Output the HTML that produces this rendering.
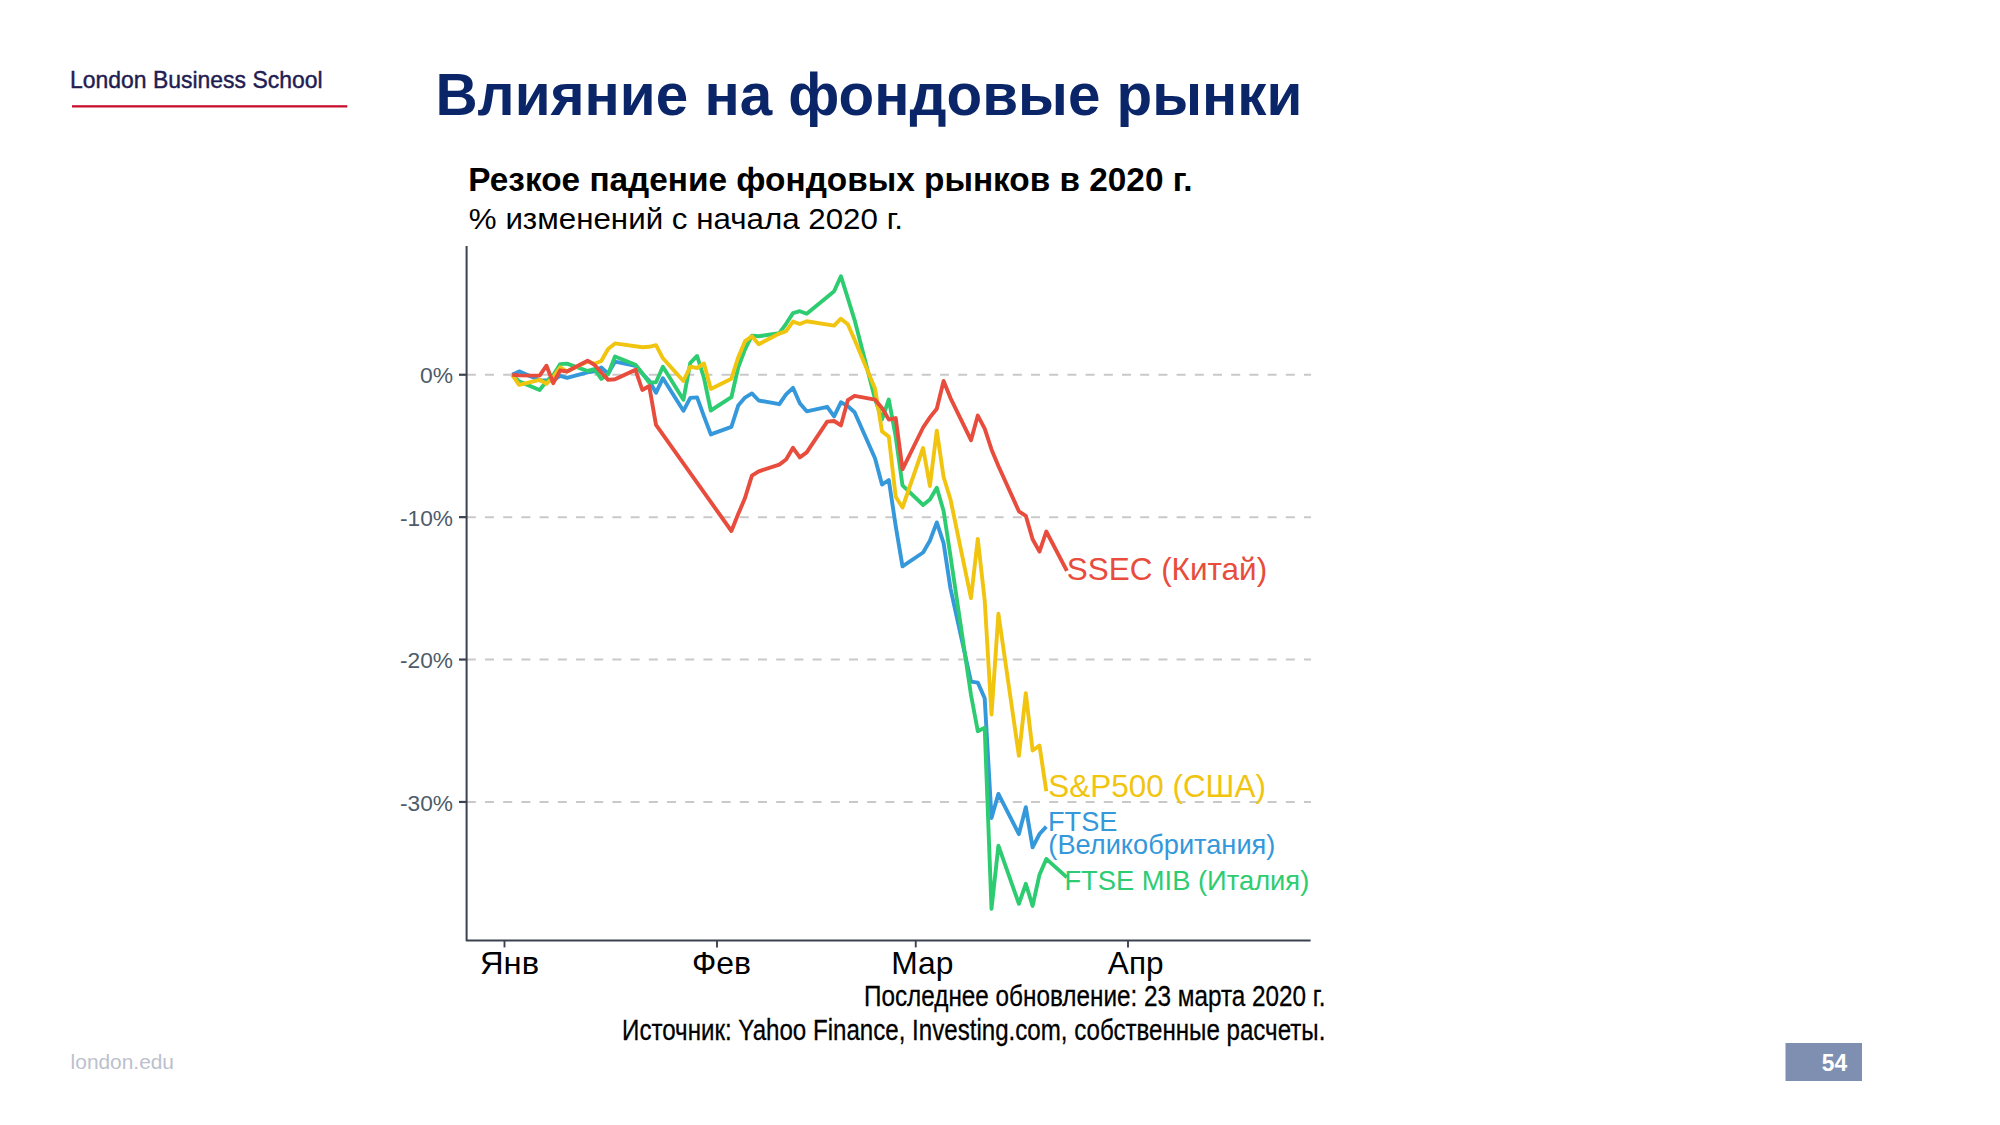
<!DOCTYPE html>
<html lang="ru">
<head>
<meta charset="utf-8">
<title>Влияние на фондовые рынки</title>
<style>
html,body{margin:0;padding:0;background:#fff;}
body{width:2000px;height:1125px;overflow:hidden;}
svg{display:block;}
svg text{font-family:"Liberation Sans",sans-serif;}
</style>
</head>
<body>
<svg width="2000" height="1125" viewBox="0 0 2000 1125">
<rect width="2000" height="1125" fill="#ffffff"/>
<rect x="72" y="105.2" width="275.3" height="2.3" fill="#c8102e"/>
<line x1="466.8" y1="374.75" x2="1311" y2="374.75" stroke="#c9c9c9" stroke-width="2" stroke-dasharray="9 9.2"/>
<line x1="466.8" y1="517.15" x2="1311" y2="517.15" stroke="#c9c9c9" stroke-width="2" stroke-dasharray="9 9.2"/>
<line x1="466.8" y1="659.55" x2="1311" y2="659.55" stroke="#c9c9c9" stroke-width="2" stroke-dasharray="9 9.2"/>
<line x1="466.8" y1="801.95" x2="1311" y2="801.95" stroke="#c9c9c9" stroke-width="2" stroke-dasharray="9 9.2"/>
<polyline points="512.2,374.8 519.1,371.4 539.6,380.2 546.5,380.5 553.3,380.2 560.2,375.9 567.0,377.8 587.6,372.3 594.4,371.4 601.3,367.5 608.1,373.7 615.0,361.6 635.5,365.9 642.3,373.6 649.2,380.8 656.0,392.8 662.9,378.2 683.4,410.8 690.3,397.9 697.1,397.4 704.0,416.4 710.8,434.4 731.4,426.8 738.2,405.6 745.0,397.6 751.9,393.4 758.7,400.5 779.3,404.2 786.1,394.4 793.0,387.8 799.8,403.3 806.7,411.3 827.2,406.8 834.1,416.4 840.9,402.3 847.8,406.1 854.6,412.3 875.1,458.5 882.0,484.6 888.8,480.0 895.7,526.0 902.5,566.4 923.1,552.5 929.9,540.7 936.8,522.4 943.6,543.1 950.5,588.6 971.0,681.6 977.8,682.6 984.7,698.3 991.5,818.0 998.4,793.9 1018.9,834.1 1025.8,807.2 1032.6,847.3 1039.5,834.0 1046.3,826.7" fill="none" stroke="#3498db" stroke-width="3.9" stroke-linejoin="round" stroke-linecap="butt"/>
<polyline points="512.2,374.8 519.1,381.4 539.6,390.0 546.5,381.4 553.3,375.0 560.2,364.1 567.0,363.6 587.6,371.0 594.4,369.2 601.3,379.0 608.1,374.2 615.0,356.5 635.5,364.8 642.3,373.3 649.2,382.6 656.0,382.3 662.9,366.8 683.4,399.8 690.3,362.8 697.1,356.0 704.0,378.0 710.8,410.5 731.4,397.2 738.2,367.5 745.0,349.4 751.9,335.6 758.7,336.3 779.3,333.2 786.1,323.8 793.0,313.1 799.8,311.2 806.7,313.8 827.2,296.9 834.1,291.3 840.9,276.2 847.8,298.1 854.6,320.1 875.1,399.2 882.0,419.3 888.8,399.5 895.7,436.7 902.5,485.4 923.1,505.0 929.9,499.5 936.8,487.7 943.6,511.0 950.5,556.2 971.0,695.0 977.8,731.2 984.7,727.8 991.5,908.9 998.4,845.7 1018.9,903.8 1025.8,883.8 1032.6,905.9 1039.5,874.7 1046.3,858.9 1066.9,877.4" fill="none" stroke="#2ecc71" stroke-width="3.9" stroke-linejoin="round" stroke-linecap="butt"/>
<polyline points="512.2,374.8 519.1,384.8 539.6,379.8 546.5,383.8 553.3,376.8 560.2,367.4 567.0,371.5 587.6,361.5 594.4,363.7 601.3,361.0 608.1,349.0 615.0,343.4 642.3,347.2 649.2,346.8 656.0,345.2 662.9,358.3 683.4,381.0 690.3,366.7 697.1,368.0 704.0,363.5 710.8,388.9 731.4,378.7 738.2,357.4 745.0,341.2 751.9,336.3 758.7,344.2 779.3,333.6 786.1,331.1 793.0,321.6 799.8,324.0 806.7,321.3 834.1,325.6 840.9,318.7 847.8,324.3 854.6,339.8 875.1,388.7 882.0,431.4 888.8,436.6 895.7,496.7 902.5,507.5 923.1,448.0 929.9,486.0 936.8,430.6 943.6,477.0 950.5,499.5 971.0,598.2 977.8,538.9 984.7,600.5 991.5,714.5 998.4,613.8 1018.9,755.8 1025.8,693.2 1032.6,750.5 1039.5,745.6 1046.3,791.3" fill="none" stroke="#f1c40f" stroke-width="3.9" stroke-linejoin="round" stroke-linecap="butt"/>
<polyline points="512.2,374.8 519.1,375.4 539.6,375.6 546.5,365.7 553.3,383.2 560.2,370.3 567.0,371.5 587.6,360.7 594.4,364.8 601.3,372.5 608.1,379.9 615.0,379.2 635.5,369.9 642.3,390.0 649.2,386.0 656.0,424.9 731.4,531.0 738.2,514.1 745.0,498.0 751.9,475.7 758.7,471.3 779.3,464.6 786.1,459.5 793.0,447.8 799.8,457.4 806.7,452.4 827.2,421.6 834.1,421.0 840.9,425.4 847.8,400.2 854.6,395.8 875.1,399.7 882.0,408.1 888.8,419.6 895.7,418.1 902.5,469.3 923.1,427.5 929.9,417.4 936.8,408.7 943.6,381.0 950.5,398.1 971.0,440.2 977.8,415.6 984.7,428.6 991.5,449.4 998.4,466.0 1018.9,511.3 1025.8,515.8 1032.6,539.3 1039.5,551.6 1046.3,531.5 1066.9,570.9" fill="none" stroke="#e74c3c" stroke-width="3.9" stroke-linejoin="round" stroke-linecap="butt"/>
<polyline points="466.6,246 466.6,940.6 1310.6,940.6" fill="none" stroke="#3a434f" stroke-width="2" stroke-linejoin="round"/>
<line x1="459" y1="374.75" x2="466.6" y2="374.75" stroke="#3a434f" stroke-width="2.2"/>
<line x1="459" y1="517.15" x2="466.6" y2="517.15" stroke="#3a434f" stroke-width="2.2"/>
<line x1="459" y1="659.55" x2="466.6" y2="659.55" stroke="#3a434f" stroke-width="2.2"/>
<line x1="459" y1="801.95" x2="466.6" y2="801.95" stroke="#3a434f" stroke-width="2.2"/>
<line x1="504.5" y1="940.6" x2="504.5" y2="947.4" stroke="#3a434f" stroke-width="1.9"/>
<line x1="717" y1="940.6" x2="717" y2="947.4" stroke="#3a434f" stroke-width="1.9"/>
<line x1="915.75" y1="940.6" x2="915.75" y2="947.4" stroke="#3a434f" stroke-width="1.9"/>
<line x1="1128" y1="940.6" x2="1128" y2="947.4" stroke="#3a434f" stroke-width="1.9"/>
<rect x="1785.5" y="1043" width="76.5" height="38" fill="#7f8fb1"/>
<text x="70.02" y="88.4" font-size="24.5" font-weight="400" fill="#1f1d52" stroke="#1f1d52" stroke-width="0.45" textLength="252.59" lengthAdjust="spacingAndGlyphs">London Business School</text>
<text x="435.45" y="115" font-size="60" font-weight="700" fill="#0b2668" textLength="866.95" lengthAdjust="spacingAndGlyphs">Влияние на фондовые рынки</text>
<text x="468.36" y="191" font-size="33.4" font-weight="700" fill="#000" textLength="724.23" lengthAdjust="spacingAndGlyphs">Резкое падение фондовых рынков в 2020 г.</text>
<text x="468.85" y="228.8" font-size="29.3" font-weight="400" fill="#000" textLength="434.10" lengthAdjust="spacingAndGlyphs">% изменений с начала 2020 г.</text>
<text x="479.98" y="973.6" font-size="30.5" font-weight="400" fill="#000" textLength="59.08" lengthAdjust="spacingAndGlyphs">Янв</text>
<text x="691.92" y="973.6" font-size="30.5" font-weight="400" fill="#000" textLength="58.99" lengthAdjust="spacingAndGlyphs">Фев</text>
<text x="891.26" y="973.6" font-size="30.5" font-weight="400" fill="#000" textLength="62.16" lengthAdjust="spacingAndGlyphs">Мар</text>
<text x="1107.88" y="973.6" font-size="30.5" font-weight="400" fill="#000" textLength="55.67" lengthAdjust="spacingAndGlyphs">Апр</text>
<text x="1066.74" y="580" font-size="31.5" font-weight="400" fill="#e74c3c" textLength="200.39" lengthAdjust="spacingAndGlyphs">SSEC (Китай)</text>
<text x="1048.35" y="796.7" font-size="31.5" font-weight="400" fill="#f1c40f" textLength="217.54" lengthAdjust="spacingAndGlyphs">S&amp;P500 (США)</text>
<text x="1047.98" y="830.9" font-size="27.5" font-weight="400" fill="#3498db" textLength="69.38" lengthAdjust="spacingAndGlyphs">FTSE</text>
<text x="1048.33" y="853.75" font-size="27.5" font-weight="400" fill="#3498db" textLength="227.06" lengthAdjust="spacingAndGlyphs">(Великобритания)</text>
<text x="1064.43" y="890" font-size="27.5" font-weight="400" fill="#2ecc71" textLength="244.82" lengthAdjust="spacingAndGlyphs">FTSE MIB (Италия)</text>
<text x="864.00" y="1005.6" font-size="29.5" font-weight="400" fill="#000" stroke="#000" stroke-width="0.3" textLength="461.46" lengthAdjust="spacingAndGlyphs">Последнее обновление: 23 марта 2020 г.</text>
<text x="622.07" y="1039.8" font-size="29.5" font-weight="400" fill="#000" stroke="#000" stroke-width="0.3" textLength="703.28" lengthAdjust="spacingAndGlyphs">Источник: Yahoo Finance, Investing.com, собственные расчеты.</text>
<text x="419.96" y="383.35" font-size="21.5" font-weight="400" fill="#4d5b6a" textLength="33.05" lengthAdjust="spacingAndGlyphs">0%</text>
<text x="400.00" y="525.75" font-size="21.5" font-weight="400" fill="#4d5b6a" textLength="53.00" lengthAdjust="spacingAndGlyphs">-10%</text>
<text x="400.00" y="668.15" font-size="21.5" font-weight="400" fill="#4d5b6a" textLength="53.00" lengthAdjust="spacingAndGlyphs">-20%</text>
<text x="400.00" y="810.55" font-size="21.5" font-weight="400" fill="#4d5b6a" textLength="53.00" lengthAdjust="spacingAndGlyphs">-30%</text>
<text x="70.63" y="1068.5" font-size="20.5" font-weight="400" fill="#bcc0cc" textLength="103.35" lengthAdjust="spacingAndGlyphs">london.edu</text>
<text x="1821.86" y="1071" font-size="23" font-weight="700" fill="#ffffff" textLength="25.36" lengthAdjust="spacingAndGlyphs">54</text>
</svg>
</body>
</html>
